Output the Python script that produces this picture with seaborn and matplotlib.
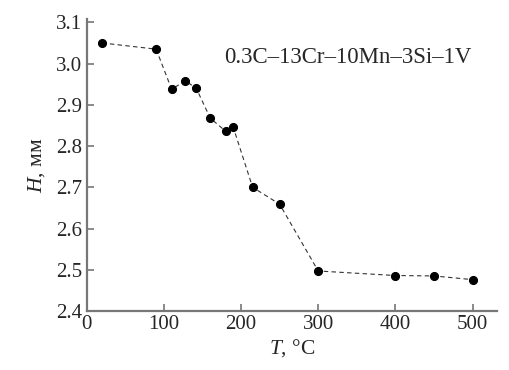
import matplotlib
matplotlib.use("Agg")
import matplotlib.pyplot as plt
import seaborn as sns
import pandas as pd

temperature = [20, 90, 110, 128, 142, 160, 180, 190, 215, 250, 300, 400, 450, 500]
hardness = [3.050, 3.035, 2.938, 2.958, 2.940, 2.868, 2.836, 2.845, 2.700, 2.659, 2.497, 2.486, 2.485, 2.476]
x_ticks = [0, 100, 200, 300, 400, 500]
y_ticks = [2.4, 2.5, 2.6, 2.7, 2.8, 2.9, 3.0, 3.1]
annotation = "0.3C\u201313Cr\u201310Mn\u20133Si\u20131V"

sns.set_style("ticks")
plt.rcParams['font.family'] = ['Liberation Serif', 'DejaVu Serif']
plt.rcParams['mathtext.fontset'] = 'custom'
plt.rcParams['mathtext.it'] = 'Liberation Serif:italic'
plt.rcParams['mathtext.rm'] = 'Liberation Serif'

df = pd.DataFrame({"T": temperature, "H": hardness})

fig = plt.figure(figsize=(5.1, 3.7), dpi=100)
ax = fig.add_axes([0.170, 0.1595, 0.805, 0.789])

sns.lineplot(data=df, x="T", y="H", ax=ax, color="#333333", linestyle=(0, (4, 3)),
             linewidth=0.8, marker="o", markersize=5.8, markerfacecolor="black",
             markeredgecolor="black")

ax.set_xlim(0, 532)
ax.set_ylim(2.4, 3.108)
ax.set_xticks(x_ticks)
ax.set_yticks(y_ticks)
ax.set_xticklabels([str(t) for t in x_ticks])
ax.set_yticklabels([f"{v:.1f}" for v in y_ticks])
ax.tick_params(direction="in", length=5, width=1.2, color="#777777", labelsize=15)
ax.tick_params(axis="y", pad=3.5)
ax.tick_params(axis="x", pad=3)
for s in ["top", "right"]:
    ax.spines[s].set_visible(False)
for s in ["left", "bottom"]:
    ax.spines[s].set_color("#777777")
    ax.spines[s].set_linewidth(1.6)

ax.set_xlabel("$T$, \u00b0C", fontsize=15.5, labelpad=2)
ax.set_ylabel("$H$, мм", fontsize=15.5, labelpad=6)
ax.text(0.637, 0.87, annotation, transform=ax.transAxes, ha="center", va="center", fontsize=16.5)

fig.savefig("out.png", dpi=100)
